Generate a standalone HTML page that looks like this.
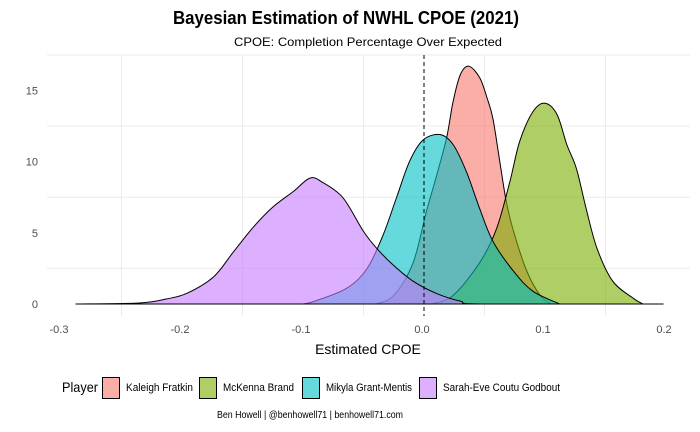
<!DOCTYPE html>
<html><head><meta charset="utf-8"><style>
body{margin:0;background:#fff;}
svg{display:block;font-family:"Liberation Sans",Arial,sans-serif;}
</style></head><body>
<svg id="chart" width="700" height="432" viewBox="0 0 700 432" xmlns="http://www.w3.org/2000/svg">
<rect width="700" height="432" fill="#fff"/>
<text x="346" y="24" text-anchor="middle" font-size="18" font-weight="bold" fill="#000" textLength="346" lengthAdjust="spacingAndGlyphs">Bayesian Estimation of NWHL CPOE (2021)</text>
<text x="368" y="46" text-anchor="middle" font-size="12" fill="#000" textLength="268" lengthAdjust="spacingAndGlyphs">CPOE: Completion Percentage Over Expected</text>
<g id="grid"></g>
<g id="marks"></g>
<g id="axes"></g>
<text x="368" y="354" text-anchor="middle" font-size="14" fill="#000">Estimated CPOE</text>
<g id="legend"></g>
<text x="310" y="418" text-anchor="middle" font-size="10" fill="#000" textLength="186" lengthAdjust="spacingAndGlyphs">Ben Howell | @benhowell71 | benhowell71.com</text>
</svg>
<script>
const xTickValues=[-0.3,-0.2,-0.1,0.0,0.1,0.2];
const xTickLabels=["-0.3","-0.2","-0.1","0.0","0.1","0.2"];
const yTickValues=[0,5,10,15];
const yTickLabels=["0","5","10","15"];
const players=["Kaleigh Fratkin","McKenna Brand","Mikyla Grant-Mentis","Sarah-Eve Coutu Godbout"];
const colors=["#F8766D","#7CAE00","#00BFC4","#C77CFF"];
const kaleighX=[-0.04,-0.025,-0.009,0.002,0.012,0.019,0.024,0.030,0.037,0.046,0.052,0.057,0.063,0.068,0.074,0.085,0.096,0.105];
const kaleighY=[0,0.6,2.9,6.5,9.5,11.8,14.2,16.1,16.7,15.9,14.5,13.0,9.8,7.2,5.1,2.3,0.6,0];
const mckennaX=[0.006,0.024,0.046,0.060,0.071,0.079,0.090,0.100,0.110,0.118,0.126,0.134,0.143,0.156,0.173,0.181];
const mckennaY=[0,0.6,2.9,5.3,8.6,11.4,13.5,14.1,13.3,11.2,9.5,6.7,3.9,1.6,0.4,0];
const mikylaX=[-0.10,-0.092,-0.064,-0.047,-0.034,-0.023,-0.012,-0.001,0.013,0.024,0.035,0.046,0.057,0.074,0.090,0.112];
const mikylaY=[0,0.15,1.1,2.5,4.8,7.4,10.0,11.5,11.9,11.2,9.3,6.7,4.4,2.3,0.9,0];
const sarahX=[-0.288,-0.235,-0.213,-0.196,-0.174,-0.158,-0.141,-0.125,-0.108,-0.094,-0.083,-0.069,-0.061,-0.050,-0.039,-0.025,-0.009,0.010,0.030,0.05,0.198];
const sarahY=[0,0.07,0.35,0.75,1.9,3.6,5.4,6.8,7.9,8.85,8.5,7.65,6.7,5.1,3.9,2.7,1.6,0.75,0.2,0,0];
const seriesX=[kaleighX,mckennaX,mikylaX,sarahX];
const seriesY=[kaleighY,mckennaY,mikylaY,sarahY];

const NS="http://www.w3.org/2000/svg";
const xs=v=>424+v*1210;
const ys=v=>304-v*14.24;
function mk(tag,attrs,parent){const e=document.createElementNS(NS,tag);for(const k in attrs)e.setAttribute(k,attrs[k]);parent.appendChild(e);return e;}
const grid=document.getElementById('grid'),marks=document.getElementById('marks'),axes=document.getElementById('axes'),legend=document.getElementById('legend');
for(let i=0;i<xTickValues.length-1;i++){const v=(xTickValues[i]+xTickValues[i+1])/2;
 const l=mk('line',{x1:xs(v),x2:xs(v),y1:55,y2:316,stroke:'#ebebeb','stroke-width':1},grid);
 
 }
for(let i=0;i<yTickValues.length-1;i++){const v=(yTickValues[i]+yTickValues[i+1])/2;
 const l=mk('line',{x1:47,x2:690,y1:ys(v),y2:ys(v),stroke:'#ebebeb','stroke-width':1},grid);
 
 }
mk('line',{x1:47,x2:690,y1:55,y2:55,stroke:'#ebebeb'},grid);
function pathFor(X,Y){let d='M'+xs(X[0])+','+ys(0)+' L'+xs(X[0])+','+ys(Y[0]);
 const P=X.map((x,i)=>[xs(x),ys(Y[i])]);
 for(let i=0;i<P.length-1;i++){const p0=P[Math.max(0,i-1)],p1=P[i],p2=P[i+1],p3=P[Math.min(P.length-1,i+2)];
  const c1=[p1[0]+(p2[0]-p0[0])/6,p1[1]+(p2[1]-p0[1])/6],c2=[p2[0]-(p3[0]-p1[0])/6,p2[1]-(p3[1]-p1[1])/6];
  c1[1]=Math.min(c1[1],304);c2[1]=Math.min(c2[1],304);
  d+=' C'+c1[0]+','+c1[1]+' '+c2[0]+','+c2[1]+' '+p2[0]+','+p2[1];}
 d+=' L'+xs(X[X.length-1])+','+ys(0)+' Z';return d;}
const names=['density-kaleigh-fratkin','density-mckenna-brand','density-mikyla-grant-mentis','density-sarah-eve-coutu-godbout'];
for(let s=0;s<4;s++){const p=mk('path',{d:pathFor(seriesX[s],seriesY[s]),fill:colors[s],'fill-opacity':0.6,stroke:'#000','stroke-width':1},marks);
 
 }
{const l=mk('line',{x1:xs(0),x2:xs(0),y1:55,y2:316,stroke:'#000','stroke-width':1,'stroke-dasharray':'4,3'},marks);
 
 }
xTickValues.forEach((v,i)=>{const t=mk('text',{x:422+v*1210,y:333,'text-anchor':'middle','font-size':11,fill:'#4d4d4d'},axes);t.textContent=xTickLabels[i];
 
 });
yTickValues.forEach((v,i)=>{const t=mk('text',{x:38,y:ys(v)+4,'text-anchor':'end','font-size':11,fill:'#4d4d4d'},axes);t.textContent=yTickLabels[i];
 
 });
{const t=mk('text',{x:62,y:392,'font-size':14,fill:'#000',textLength:36,lengthAdjust:'spacingAndGlyphs'},legend);t.textContent='Player';
 
 }
const boxX=[102,199,302,419];
const textW=[67,71,86,117];
players.forEach((p,i)=>{const g=mk('g',{},legend);
 
 
 mk('rect',{x:boxX[i]+0.5,y:377.5,width:17,height:21,fill:colors[i],'fill-opacity':0.6,stroke:'#000','stroke-width':1},g);
 const t=mk('text',{x:boxX[i]+24,y:391,'font-size':11,fill:'#000',textLength:textW[i],lengthAdjust:'spacingAndGlyphs'},g);t.textContent=p;});
</script>
</body></html>
